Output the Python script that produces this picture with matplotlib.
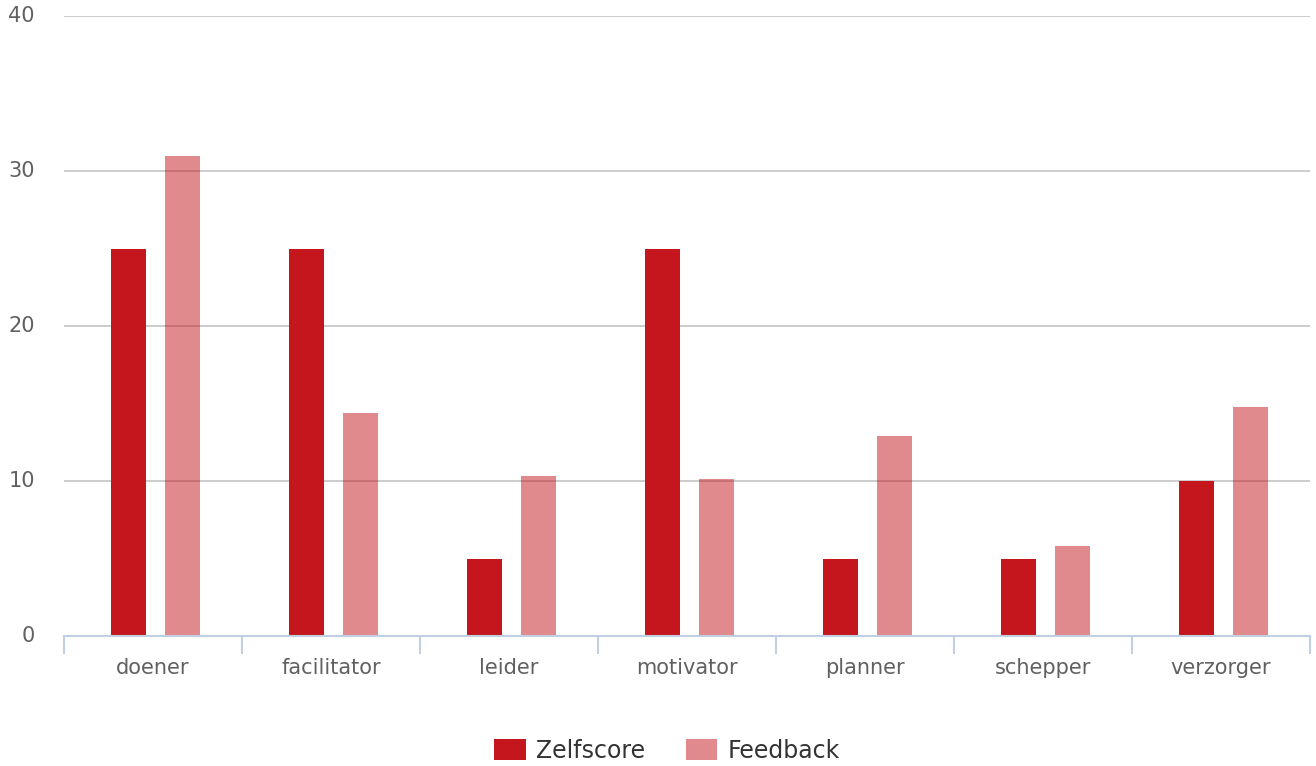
import matplotlib
matplotlib.use("Agg")
import matplotlib.pyplot as plt
import numpy as np

plt.rcParams["font.family"] = ["DejaVu Sans"]

categories = ["doener", "facilitator", "leider", "motivator", "planner", "schepper", "verzorger"]
zelfscore = [25, 25, 5, 25, 5, 5, 10]
feedback = [31, 14.4, 10.3, 10.1, 12.9, 5.8, 14.8]
series_names = ["Zelfscore", "Feedback"]
yticks = [0, 10, 20, 30, 40]

base = "#C4161C"

fig = plt.figure(figsize=(13.16, 7.66), dpi=100)
ax = fig.add_axes([64/1316, 1 - 636/766, (1310-64)/1316, (636-16)/766])

x = np.arange(len(categories))
w = 0.197
ax.bar(x - 0.137, zelfscore, width=w, color=base, zorder=3, label=series_names[0])
ax.bar(x + 0.167, feedback, width=w, color=base, alpha=0.5, zorder=3, label=series_names[1])

ax.set_xlim(-0.5, len(categories) - 0.5)
ax.set_ylim(0, 40)
ax.set_yticks(yticks)
ax.yaxis.grid(True, color="#c8c8c8", linewidth=1.3, zorder=1)
for s in ["top", "right", "left"]:
    ax.spines[s].set_visible(False)
ax.spines["bottom"].set_color("#c0d0e0")
ax.spines["bottom"].set_linewidth(1.5)
ax.spines["bottom"].set_zorder(4)

ax.set_xticks(x)
ax.set_xticklabels(categories, fontsize=15, color="#606060")
ax.tick_params(axis="x", length=0, pad=16)
ax.set_xticks(np.arange(-0.5, len(categories)), minor=True)
ax.tick_params(axis="x", which="minor", length=13, width=1.5, color="#c0d0e0")
ax.tick_params(axis="y", length=0, pad=21, labelsize=15, labelcolor="#606060")
for lbl in ax.get_yticklabels():
    lbl.set_verticalalignment("center")

leg = fig.legend(loc="center", bbox_to_anchor=(667/1316, 1 - 751/766), ncol=2,
                 frameon=False, fontsize=17, handlelength=1.35, handleheight=1.0,
                 columnspacing=1.7, handletextpad=0.45)
for t in leg.get_texts():
    t.set_color("#333333")

fig.savefig("out.png", dpi=100)
